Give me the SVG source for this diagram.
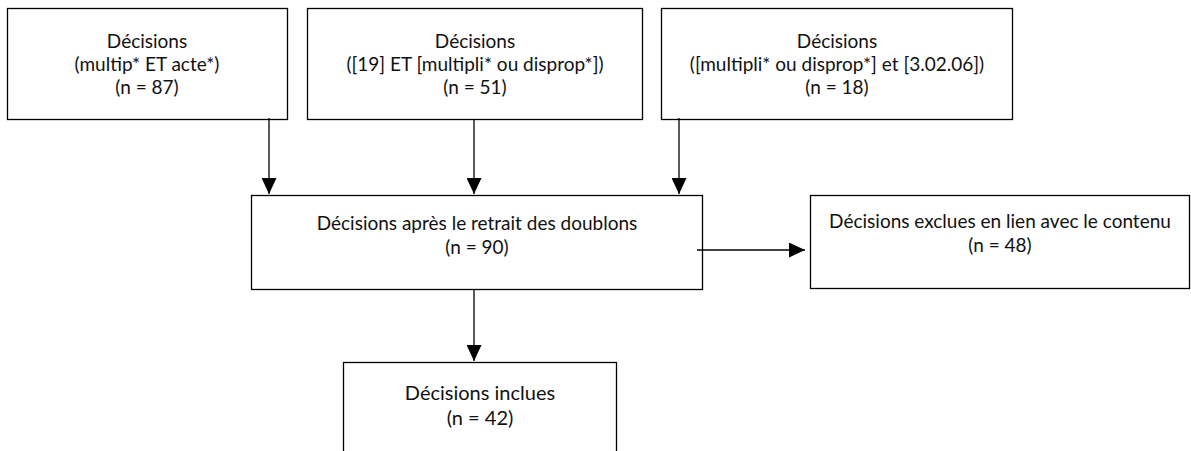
<svg xmlns="http://www.w3.org/2000/svg" width="1191" height="451" viewBox="0 0 1191 451">
<style>
.box{fill:#fff;stroke:#000;stroke-width:1.3}
.t{font-family:Lato,"Open Sans","Liberation Sans",sans-serif;font-size:19px;fill:#111;text-anchor:middle}
.big{font-size:20px}
.c{stroke:#000;stroke-width:1.3;fill:none;marker-end:url(#ah)}
</style>
<defs>
<marker id="ah" viewBox="0 0 16 15" refX="16" refY="7.5" markerWidth="16" markerHeight="15" markerUnits="userSpaceOnUse" orient="auto">
<path d="M0,0 L16,7.5 L0,15 z" fill="#000"/>
</marker>
</defs>
<rect width="1191" height="451" fill="#fff"/>
<g id="n1">
<rect class="box" x="7.5" y="8.5" width="280" height="111"/>
<text class="t" x="147" y="48">Décisions</text>
<text class="t" x="147" y="71">(multip* ET acte*)</text>
<text class="t" x="147" y="94">(n = 87)</text>
</g>
<g id="n2">
<rect class="box" x="307.5" y="8.5" width="335" height="111"/>
<text class="t" x="475" y="48">Décisions</text>
<text class="t" x="475" y="71">([19] ET [multipli* ou disprop*])</text>
<text class="t" x="475" y="94">(n = 51)</text>
</g>
<g id="n3">
<rect class="box" x="661.5" y="8.5" width="351" height="111"/>
<text class="t" x="837" y="48">Décisions</text>
<text class="t" x="837" y="71">([multipli* ou disprop*] et [3.02.06])</text>
<text class="t" x="837" y="94">(n = 18)</text>
</g>
<g id="n4">
<rect class="box" x="251.5" y="195.5" width="451" height="94"/>
<text class="t" x="477" y="230">Décisions après le retrait des doublons</text>
<text class="t" x="477" y="254">(n = 90)</text>
</g>
<g id="n5">
<rect class="box" x="810.5" y="195.5" width="379" height="93"/>
<text class="t" x="1000" y="228">Décisions exclues en lien avec le contenu</text>
<text class="t" x="1000" y="252">(n = 48)</text>
</g>
<g id="n6">
<rect class="box" x="343.5" y="362.5" width="273" height="100"/>
<text class="t big" x="480" y="400">Décisions inclues</text>
<text class="t big" x="480" y="425">(n = 42)</text>
</g>
<g id="connectors">
<line class="c" x1="269" y1="118" x2="269" y2="194"/>
<line class="c" x1="474" y1="120" x2="474" y2="194"/>
<line class="c" x1="679" y1="118" x2="679" y2="194"/>
<line class="c" x1="697" y1="250" x2="805" y2="250"/>
<line class="c" x1="474" y1="289" x2="474" y2="361"/>
</g>
</svg>
